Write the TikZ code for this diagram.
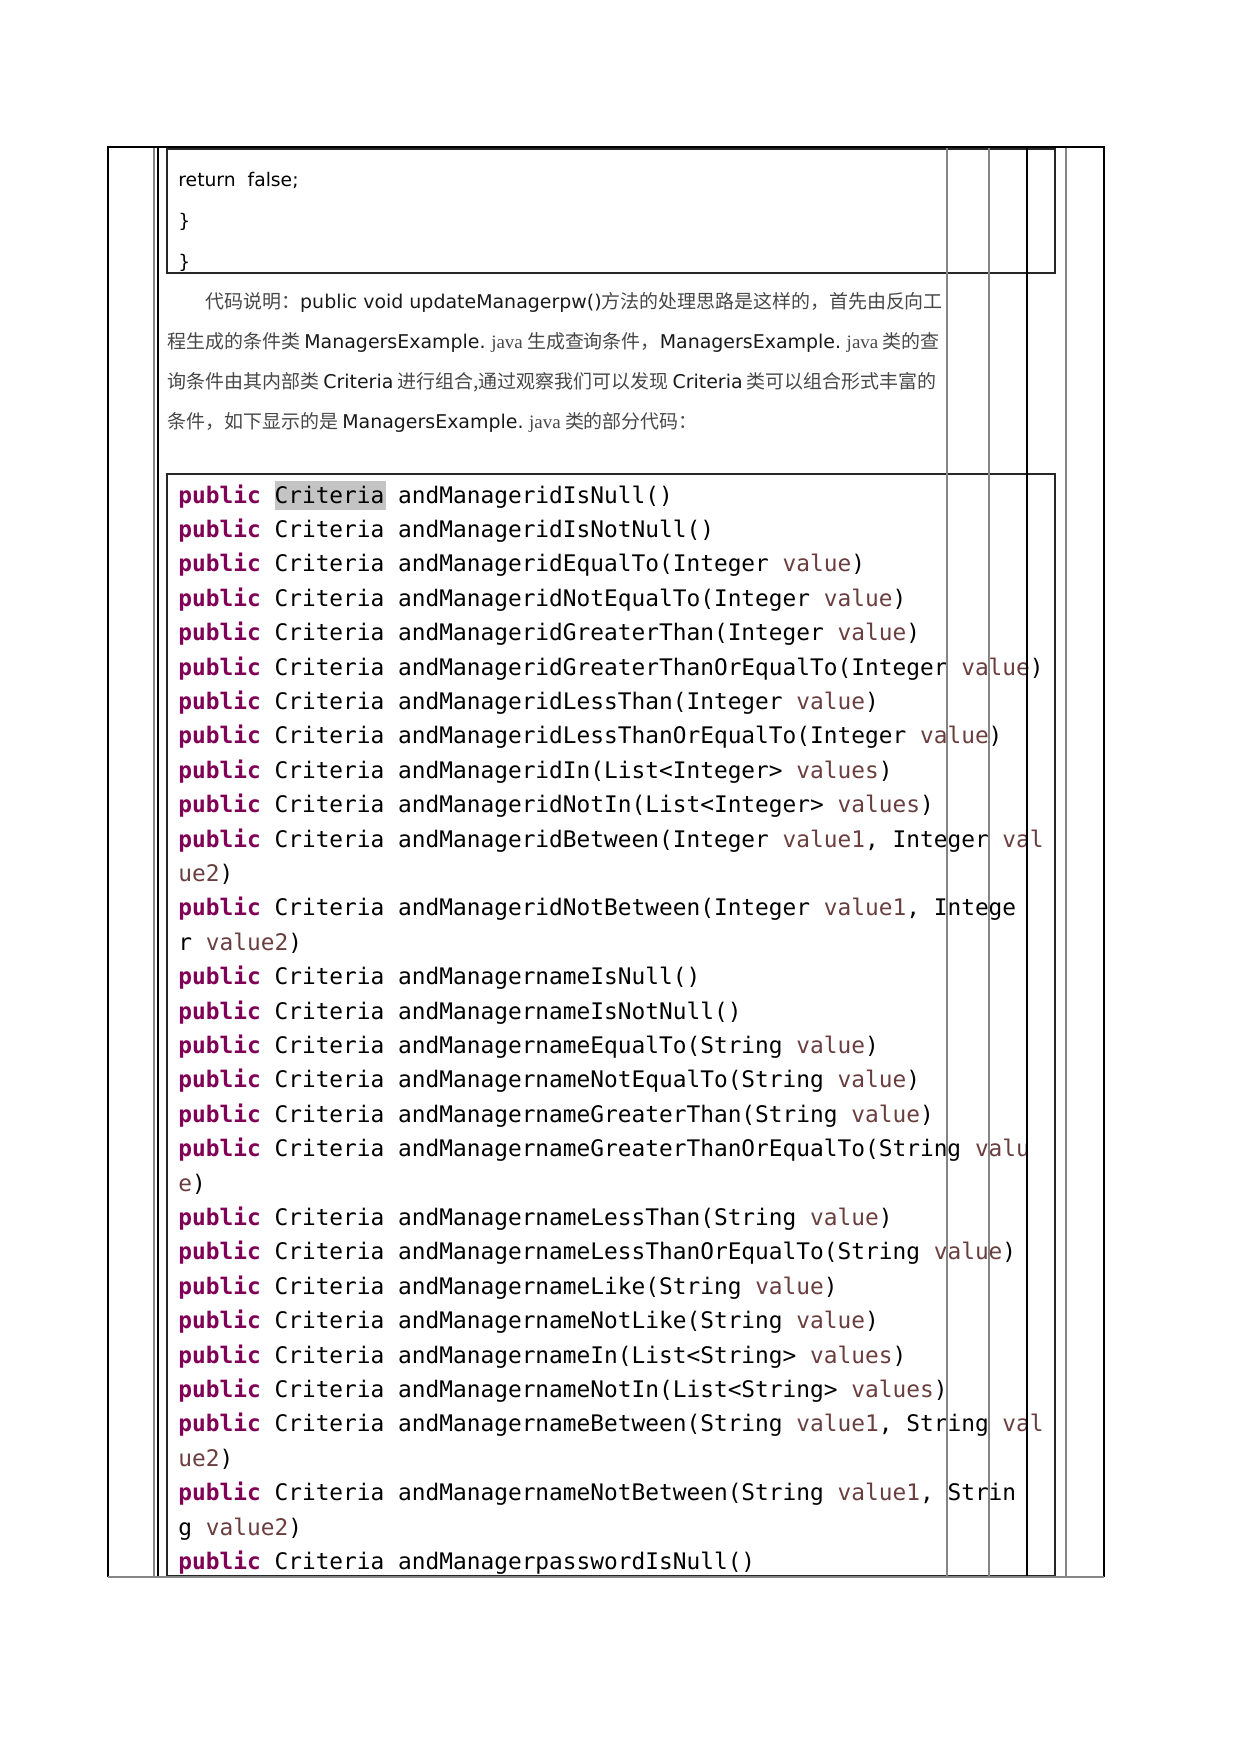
\documentclass[tikz,border=0pt]{standalone}
\usepackage{fontspec}
\newfontfamily\codefont{DejaVu Sans Mono}
\newfontfamily\verfont{DejaVu Sans}
\newfontfamily\cjk{Noto Sans CJK SC}
\newfontfamily\javafont{Liberation Serif}
\definecolor{kwcol}{HTML}{7F0055}
\definecolor{vlcol}{HTML}{6A3E3E}
\definecolor{rulegray}{HTML}{858585}
\definecolor{markgray}{HTML}{C4C4C4}
\newcommand\pub{\textcolor{kwcol}{\bfseries public}}
\newcommand\vl[1]{\textcolor{vlcol}{#1}}
\newcommand\lat[1]{{\verfont\color{black!90}#1}}
\newcommand\jv{{\javafont java}}

\tikzset{
  codeline/.style={anchor=base west, inner sep=0pt, font=\codefont\fontsize{10.95}{13}\selectfont},
  retline/.style={anchor=base west, inner sep=0pt, font=\verfont\fontsize{9}{11}\selectfont},
  noteline/.style={anchor=base west, inner sep=0pt, font=\cjk\fontsize{9.1}{11}\selectfont, text=black!72},
  boxline/.style={draw=black!85, line width=1pt},
  grayrule/.style={draw=rulegray, line width=1pt},
  thinrule/.style={draw=black, line width=0.5pt},
}

\begin{document}
\begin{tikzpicture}[x=0.48pt, y=-0.48pt]
\useasboundingbox (0,0) rectangle (1240,1753);

% end of the previous code block
\begin{scope}
  \clip (167,149) rectangle (1055,273);
  \node[retline] (ret) at (178,186) {return\ \ false;};
  \node[retline] (brace1) at (178,227) {\}};
  \node[retline] (brace2) at (178,268) {\}};
\end{scope}
\draw[boxline] (167,149) rectangle (1055,273);

% explanation
\node[noteline] (note1) at (205,308) {代码说明：\lat{public void updateManagerpw()}方法的处理思路是这样的，首先由反向工};
\node[noteline] (note2) at (167,348) {程生成的条件类 \lat{ManagersExample.} \jv\ 生成查询条件，\lat{ManagersExample.} \jv\ 类的查};
\node[noteline] (note3) at (167,388) {询条件由其内部类 \lat{Criteria} 进行组合,通过观察我们可以发现 \lat{Criteria} 类可以组合形式丰富的};
\node[noteline] (note4) at (167,428) {条件，如下显示的是 \lat{ManagersExample.} \jv\ 类的部分代码：};

% Criteria methods
\fill[markgray] (275,481) rectangle (386,510);
\foreach \txt [count=\i from 0] in {
  {\pub{} Criteria andManageridIsNull()},
  {\pub{} Criteria andManageridIsNotNull()},
  {\pub{} Criteria andManageridEqualTo(Integer \vl{value})},
  {\pub{} Criteria andManageridNotEqualTo(Integer \vl{value})},
  {\pub{} Criteria andManageridGreaterThan(Integer \vl{value})},
  {\pub{} Criteria andManageridGreaterThanOrEqualTo(Integer \vl{value})},
  {\pub{} Criteria andManageridLessThan(Integer \vl{value})},
  {\pub{} Criteria andManageridLessThanOrEqualTo(Integer \vl{value})},
  {\pub{} Criteria andManageridIn(List<Integer> \vl{values})},
  {\pub{} Criteria andManageridNotIn(List<Integer> \vl{values})},
  {\pub{} Criteria andManageridBetween(Integer \vl{value1}, Integer \vl{val}},
  {\vl{ue2})},
  {\pub{} Criteria andManageridNotBetween(Integer \vl{value1}, Intege},
  {r \vl{value2})},
  {\pub{} Criteria andManagernameIsNull()},
  {\pub{} Criteria andManagernameIsNotNull()},
  {\pub{} Criteria andManagernameEqualTo(String \vl{value})},
  {\pub{} Criteria andManagernameNotEqualTo(String \vl{value})},
  {\pub{} Criteria andManagernameGreaterThan(String \vl{value})},
  {\pub{} Criteria andManagernameGreaterThanOrEqualTo(String \vl{valu}},
  {\vl{e})},
  {\pub{} Criteria andManagernameLessThan(String \vl{value})},
  {\pub{} Criteria andManagernameLessThanOrEqualTo(String \vl{value})},
  {\pub{} Criteria andManagernameLike(String \vl{value})},
  {\pub{} Criteria andManagernameNotLike(String \vl{value})},
  {\pub{} Criteria andManagernameIn(List<String> \vl{values})},
  {\pub{} Criteria andManagernameNotIn(List<String> \vl{values})},
  {\pub{} Criteria andManagernameBetween(String \vl{value1}, String \vl{val}},
  {\vl{ue2})},
  {\pub{} Criteria andManagernameNotBetween(String \vl{value1}, Strin},
  {g \vl{value2})},
  {\pub{} Criteria andManagerpasswordIsNull()}}
  \node[codeline] (code\i) at (178,503+\i*34.4) {\txt};
\draw[boxline] (167,474) rectangle (1055,1576);

% table rules
\foreach \x in {154,947,989,1066}
  \draw[grayrule] (\x,147) -- (\x,1577);
\foreach \x in {158,1027}
  \draw[thinrule] (\x,147) -- (\x,1577);
\draw[thinrule] (108,1577) -- (108,147) -- (1104,147) -- (1104,1577);
\draw[grayrule] (108,1577) -- (1104,1577);

\end{tikzpicture}
\end{document}
